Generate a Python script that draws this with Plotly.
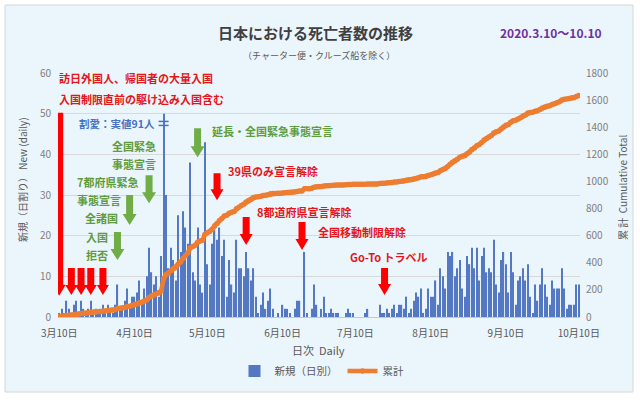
import numpy as np
import pandas as pd
import plotly.graph_objects as go

# ---------------- data ----------------
START_DATE = "2020-03-10"
mar_10_31 = [1, 2, 1, 4, 2, 1, 3, 4, 1, 4, 2, 1, 2, 4, 1, 2, 1, 2, 3, 1, 3, 2]
apr = [1, 3, 8, 2, 2, 4, 7, 3, 5, 5, 6, 9, 4, 7, 10, 17, 11, 8, 10, 5,
       15, 91, 30, 12, 17, 14, 9, 25, 16, 26]
may = [22, 18, 38, 11, 9, 22, 8, 6, 43, 13, 8, 18, 23, 19, 22, 15, 19, 5, 14, 8,
       6, 19, 12, 12, 10, 16, 12, 9, 12, 5, 1]
jun = [3, 6, 2, 4, 7, 2, 0, 1, 0, 3, 2, 2, 1, 0, 2, 4, 4, 0, 16, 1,
       0, 2, 8, 3, 0, 2, 5, 1, 1, 2]
jul = [1, 1, 1, 0, 0, 1, 2, 1, 1, 0, 0, 0, 0, 1, 2, 0, 0, 0, 0, 3,
       1, 1, 2, 1, 2, 3, 1, 3, 3, 2, 5]
aug = [1, 2, 4, 6, 5, 7, 1, 2, 7, 5, 5, 9, 3, 12, 10, 7, 16, 15, 16, 10,
       12, 14, 7, 5, 15, 13, 17, 12, 17, 9, 15]
sep = [17, 11, 12, 11, 19, 8, 6, 14, 16, 13, 6, 16, 11, 3, 9, 10, 12, 9, 13, 5,
       1, 8, 4, 8, 12, 8, 5, 3, 9, 7]
oct_1_10 = [7, 7, 12, 7, 2, 3, 3, 3, 8, 8]

CUM_BEFORE_START = 3      # deaths before 3/10
BAR_CAP = 50              # bars above this are cut ("割愛")

tick_dates = ["2020-03-10", "2020-04-10", "2020-05-10", "2020-06-10",
              "2020-07-10", "2020-08-10", "2020-09-10", "2020-10-10"]
tick_labels = ["3月10日", "4月10日", "5月10日", "6月10日",
               "7月10日", "8月10日", "9月10日", "10月10日"]

daily = np.array(mar_10_31 + apr + may + jun + jul + aug + sep + oct_1_10)
dates = pd.date_range(START_DATE, periods=len(daily), freq="D")
cumulative = CUM_BEFORE_START + np.cumsum(daily)
daily_shown = np.minimum(daily, BAR_CAP)

# ---------------- styles ----------------
FONT = "Noto Sans CJK JP, Noto Sans, sans-serif"
RED_T, RED_A = "#E5161A", "#FF0000"
GRN_T, GRN_A = "#5E9C3C", "#70AD47"
BLUE = "#4472C4"
ORANGE = "#ED7D31"
GRAY = "#595959"

# plot area in pixels
L, R, T, B = 58, 580, 73, 317
W, H = 640, 400


def px(x):
    return (x - L) / (R - L)


def py(y):
    return (B - y) / (B - T)


fig = go.Figure()
fig.add_trace(go.Bar(x=dates, y=daily_shown, name="新規（日別）",
                     marker=dict(color="#5479C2", line=dict(width=0)),
                     customdata=daily, hovertemplate="%{x}: %{customdata}<extra></extra>"))
fig.add_trace(go.Scatter(x=dates, y=cumulative, name="累計", yaxis="y2",
                         mode="lines+markers",
                         line=dict(color=ORANGE, width=4.5),
                         marker=dict(color=ORANGE, size=5.5)))

shapes = []
annotations = []

# background panel
shapes.append(dict(type="rect", xref="paper", yref="paper", layer="below",
                   x0=px(5), x1=px(633), y0=py(392), y1=py(5),
                   fillcolor="#EBF5FC", line=dict(color="#D6D6D6", width=1)))


def arrow(date, tip, length, color, shaft=7, head=13, head_len=11):
    w, h = shaft / 2, head / 2
    path = (f"M {-w} {length} L {w} {length} L {w} {head_len} L {h} {head_len} "
            f"L 0 0 L {-h} {head_len} L {-w} {head_len} Z")
    shapes.append(dict(type="path", xref="x", yref="y", xsizemode="pixel",
                       ysizemode="pixel", xanchor=date, yanchor=tip, path=path,
                       fillcolor=color, line=dict(width=0), layer="above"))


# red arrows
arrow("2020-03-10", 5.2, 183, RED_A, shaft=8, head=13)
for d in ["2020-03-15", "2020-03-19", "2020-03-23", "2020-03-28"]:
    arrow(d, 5.4, 27, RED_A, shaft=7, head=12, head_len=10)
arrow("2020-05-14", 28.7, 27, RED_A)
arrow("2020-05-26", 17.7, 28, RED_A)
arrow("2020-06-18", 16.5, 28, RED_A)
arrow("2020-07-22", 5.4, 27, RED_A)
# green arrows
arrow("2020-04-03", 14.0, 28, GRN_A, shaft=7, head=14)
arrow("2020-04-08", 22.6, 30, GRN_A, shaft=7, head=14)
arrow("2020-04-16", 28.0, 28, GRN_A, shaft=7, head=14)
arrow("2020-05-06", 39.3, 29, GRN_A, shaft=7, head=14)

# break mark on the cut bar
for off in (-2, 2):
    shapes.append(dict(type="line", xref="x", yref="y", xsizemode="pixel",
                       ysizemode="pixel", xanchor="2020-04-22", yanchor=47.6,
                       x0=-5, x1=5, y0=off, y1=off,
                       line=dict(color=BLUE, width=1.5)))


def text(t, x, y, color, size=11, anchor="left", bold=True, angle=0):
    annotations.append(dict(text=f"<b>{t}</b>" if bold else t, x=px(x), y=py(y),
                            xref="paper", yref="paper", xanchor=anchor,
                            yanchor="middle", showarrow=False, textangle=angle,
                            font=dict(family=FONT, size=size, color=color)))


text("日本における死亡者数の推移", 315, 32, "#404040", 15, "center")
text("（チャーター便・クルーズ船を除く）", 319, 55, GRAY, 9, "center", bold=False)
text("2020.3.10～10.10", 551, 32, "#7030A0", 12, "center")
text("日次  Daily", 318, 350, GRAY, 11, "center", bold=False)
text("新規（日割り） New (daily)", 22, 180, GRAY, 10, "center", bold=False, angle=-90)
text("累 計  Cumulative Total", 622, 188, GRAY, 10, "center", bold=False, angle=-90)

text("訪日外国人、帰国者の大量入国", 57, 78, RED_T)
text("入国制限直前の駆け込み入国含む", 57, 99, RED_T)
text("割愛：実値91人", 77, 124, BLUE, 10.5)
text("全国緊急", 158, 146, GRN_T, 11, "right")
text("事態宣言", 158, 164, GRN_T, 11, "right")
text("7都府県緊急", 75, 182, GRN_T)
text("事態宣言", 75, 200, GRN_T)
text("全諸国", 83, 218, GRN_T)
text("入国", 84, 237, GRN_T)
text("拒否", 84, 255, GRN_T)
text("延長・全国緊急事態宣言", 210, 131, GRN_T)
text("39県のみ宣言解除", 226, 171, RED_T)
text("8都道府県宣言解除", 255, 212, RED_T)
text("全国移動制限解除", 316, 232, RED_T)
text("Go-To トラベル", 348, 257, RED_T)

fig.update_layout(
    width=W, height=H,
    margin=dict(l=L, r=W - R, t=T, b=H - B),
    paper_bgcolor="white", plot_bgcolor="rgba(0,0,0,0)",
    font=dict(family=FONT, size=10, color=GRAY),
    bargap=0.5,
    showlegend=True,
    legend=dict(orientation="h", x=px(322), xanchor="center", y=py(371),
                yanchor="middle", bgcolor="rgba(0,0,0,0)",
                font=dict(family=FONT, size=10.5, color=GRAY)),
    xaxis=dict(type="date", range=["2020-03-09 12:00", "2020-10-10 12:00"],
               tickvals=tick_dates, ticktext=tick_labels, showgrid=False,
               showline=True, linecolor="#C8C8C8",
               ticks="outside", ticklen=7, tickcolor="rgba(0,0,0,0)",
               tickfont=dict(size=10, color=GRAY), zeroline=False),
    yaxis=dict(range=[0, 60], dtick=10, showgrid=True, gridcolor="#D9D9D9",
               zeroline=False, ticks="outside", ticklen=4,
               tickcolor="rgba(0,0,0,0)", tickfont=dict(size=10, color="#808080")),
    yaxis2=dict(range=[0, 1800], dtick=200, overlaying="y", side="right",
                showgrid=False, zeroline=False, ticks="outside", ticklen=3,
                tickcolor="rgba(0,0,0,0)", tickfont=dict(size=10, color="#808080")),
    shapes=shapes, annotations=annotations,
)

fig.write_html("out.html")
